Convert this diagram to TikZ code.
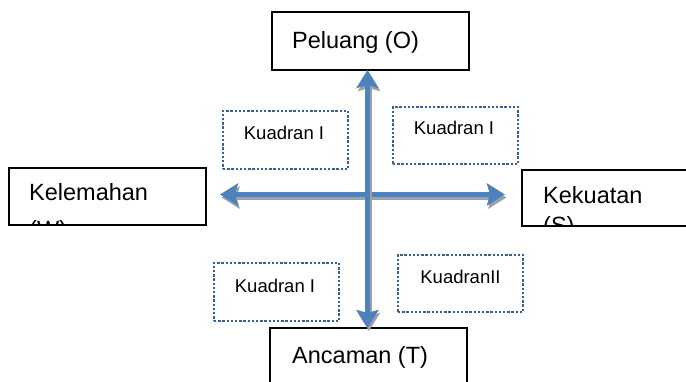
\documentclass[tikz,border=0pt]{standalone}
\usepackage{fontspec}
\setmainfont{Liberation Sans}
\usetikzlibrary{arrows.meta}
\definecolor{arrowblue}{HTML}{4F81BD}
\definecolor{shadowgray}{HTML}{A0A0A0}
\definecolor{dotblue}{HTML}{3A5F93}
\tikzset{
  solidbox/.style={draw=black, line width=1.4pt, fill=white, inner sep=0pt},
  dotbox/.style={draw=dotblue, line width=2.8pt, dash pattern=on 2.4pt off 1.8pt, inner sep=0pt, minimum width=125pt},
  bigtext/.style={inner sep=0pt, anchor=base west, font=\fontsize{23.5}{28}\selectfont},
  smalltext/.style={inner sep=0pt, font=\fontsize{18.5}{22}\selectfont},
  headtip/.tip={Stealth[length=18pt 0 0,width=22pt 0 0,inset=3pt 0]},
  bluearrow/.style={draw=arrowblue, line width=5pt, {headtip[fill=arrowblue]}-{headtip[fill=arrowblue]}},
  shadowarrow/.style={draw=shadowgray, line width=5pt, {headtip[fill=shadowgray]}-{headtip[fill=shadowgray]}, transform canvas={shift={(1.5pt,-3pt)}}}
}
\begin{document}
\begin{tikzpicture}[x=1pt,y=-1pt]
\clip (0,0) rectangle (686,382);
\fill[white] (0,0) rectangle (686,382);
% main boxes
\node[solidbox, minimum width=197pt, minimum height=58pt] (peluang) at (370.5,41) {};
\node[bigtext] (peluangtxt) at (292,48.5) {Peluang (O)};
\node[solidbox, minimum width=197pt, minimum height=60pt] (ancaman) at (368.5,358) {};
\node[bigtext] (ancamantxt) at (292,363) {Ancaman (T)};
\node[solidbox, minimum width=197pt, minimum height=57pt] (kelemahan) at (107.5,196.5) {};
\begin{scope}
\clip (kelemahan.south west) rectangle (kelemahan.north east);
\node[bigtext] (kelemahantxt) at (29,200.7) {Kelemahan};
\node[bigtext] (kelemahanw) at (29,238) {(W)};
\end{scope}
\node[solidbox, minimum width=180pt, minimum height=56pt] (kekuatan) at (612,198) {};
\begin{scope}
\clip (kekuatan.south west) rectangle (kekuatan.north east);
\node[bigtext] (kekuatantxt) at (543,204) {Kekuatan};
\node[bigtext] (kekuatans) at (543,234) {(S)};
\end{scope}
% dotted quadrant boxes
\node[dotbox, minimum height=58pt] (q1) at (285.5,140) {};
\node[smalltext] (q1t) at (284,133) {Kuadran I};
\node[dotbox, minimum height=57pt] (q2) at (455.5,135.5) {};
\node[smalltext] (q2t) at (454,128) {Kuadran I};
\node[dotbox, minimum height=58pt] (q3) at (276.5,292) {};
\node[smalltext] (q3t) at (275,286) {Kuadran I};
\node[dotbox, minimum height=57pt] (q4) at (460.5,283.5) {};
\node[smalltext] (q4t) at (460.5,277) {KuadranII};
% arrows
\coordinate (left) at (220,194.5);
\coordinate (right) at (505,194.5);
\coordinate (top) at (367.5,70);
\coordinate (bottom) at (367.5,328);
\draw[shadowarrow] (left) -- (right);
\draw[bluearrow] (left) -- (right);
\draw[shadowarrow] (top) -- (bottom);
\draw[bluearrow] (top) -- (bottom);
\end{tikzpicture}
\end{document}
